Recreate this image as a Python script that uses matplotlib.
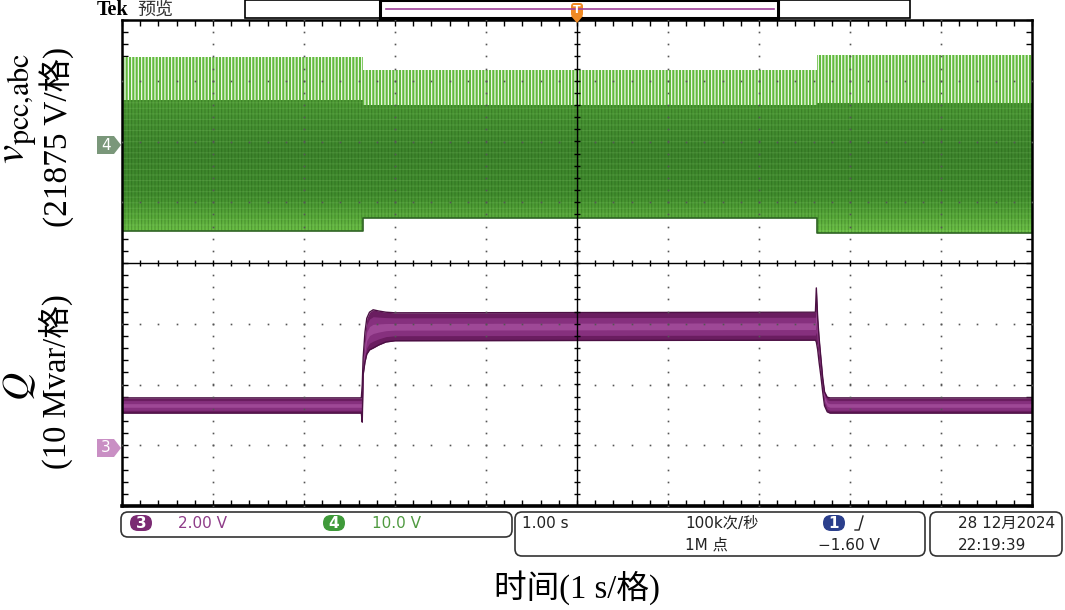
import numpy as np
import matplotlib
matplotlib.use('Agg')
import matplotlib.pyplot as plt
from matplotlib.patches import FancyBboxPatch, Rectangle, Polygon
from matplotlib.colors import LinearSegmentedColormap

plt.rcParams['hatch.linewidth'] = 0.8
plt.rcParams['mathtext.fontset'] = 'stix'

W, H = 1065, 610

# ---------------- data (screen divisions, 1 s/div) ----------------
green_edges = [-5.0, -2.35, 2.64, 5.0]          # s
green_top = [3.39, 3.18, 3.42]                  # div
green_stripe_floor = [2.68, 2.60, 2.63]         # div
green_bottom = [0.53, 0.74, 0.49]               # div

q_t = [-5.0, -2.37, -2.36, -2.35, -2.33, -2.31, -2.28, -2.24, -2.18, -2.10, -2.0,
       2.62, 2.63, 2.645, 2.66, 2.68, 2.70, 2.72, 2.75, 2.78, 5.0]
q_upper = [-2.22, -2.22, -2.01, -1.56, -1.14, -0.91, -0.81, -0.77, -0.79, -0.81, -0.82,
           -0.81, -0.41, -0.91, -1.23, -1.56, -1.89, -2.12, -2.21, -2.22, -2.22]
q_lower = [-2.47, -2.47, -2.62, -1.84, -1.63, -1.50, -1.43, -1.40, -1.35, -1.30, -1.28,
           -1.27, -1.30, -1.43, -1.63, -1.86, -2.12, -2.35, -2.45, -2.47, -2.47]

status_ch3 = "2.00 V"
status_ch4 = "10.0 V"
timebase = "1.00 s"
rate = "100k次/秒"
points = "1M 点"
trig_level = "\u22121.60 V"
date_txt = "28 12月2024"
time_txt = "22:19:39"

ylabel_top = "(21875 V/格)"
ylabel_bot = "(10 Mvar/格)"
xlabel = "时间(1 s/格)"

fig = plt.figure(figsize=(W / 100, H / 100), dpi=100)
fig.patch.set_facecolor('white')

ax = fig.add_axes([122 / W, 1 - 506 / H, 910 / W, 486 / H])
ax.set_xlim(-5, 5)
ax.set_ylim(-4, 4)

# ---------------- green trace (channel 4) ----------------
ge = np.array(green_edges)
gt = np.r_[green_top, green_top[-1]]
gs = np.r_[green_stripe_floor, green_stripe_floor[-1]]
gb = np.r_[green_bottom, green_bottom[-1]]

ax.fill_between(ge, gs, gt, step='post', facecolor='#62bb3e', edgecolor='white',
                hatch='|||||', lw=0, zorder=2)
body = ax.fill_between(ge, gb, gs, step='post', facecolor='none', lw=0, zorder=2)
cmap = LinearSegmentedColormap.from_list('g', [(0.0, '#74c94c'), (0.12, '#5cae3c'),
                                               (0.3, '#418d2e'), (0.6, '#3d842c'),
                                               (0.85, '#469232'), (1.0, '#4f9c35')])
grad = np.linspace(0, 1, 256).reshape(-1, 1)
im = ax.imshow(grad, extent=[-5, 5, 0.45, 2.72], origin='lower', aspect='auto',
               cmap=cmap, zorder=2, interpolation='bilinear')
im.set_clip_path(body.get_paths()[0], ax.transData)
ax.fill_between(ge, gb, gs, step='post', facecolor='none', edgecolor=(0.1, 0.3, 0.05, 0.3),
                hatch='|||||', lw=0, zorder=2)
ax.fill_between(ge, gb, gs, step='post', facecolor='none', edgecolor=(0.6, 0.85, 0.5, 0.18),
                hatch='---', lw=0, zorder=2)
ax.step(ge, gb, where='post', color='#2f6324', lw=1.2, zorder=2)

# ---------------- purple trace (channel 3) ----------------
qt = np.array(q_t)
qu = np.array(q_upper)
ql = np.array(q_lower)
span = qu - ql
ax.fill_between(qt, ql, qu, color='#6a1d60', lw=0, zorder=2)
ax.fill_between(qt, ql + 0.18 * span, ql + 0.82 * span, color='#86307e', lw=0, zorder=2)
ax.fill_between(qt, ql + 0.38 * span, ql + 0.62 * span, color='#9e4896', lw=0, zorder=2)
ax.plot(qt, qu, color='#4b1043', lw=1.0, zorder=2)
ax.plot(qt, ql, color='#4b1043', lw=1.0, zorder=2)

# ---------------- graticule ----------------
minor = np.arange(-4, 4.001, 0.2)
minor_x = np.arange(-5, 5.001, 0.2)
for xv in range(-4, 5):
    if xv == 0:
        continue
    ax.plot(np.full_like(minor, xv), minor, ls='none', marker='s', ms=1.2,
            color='#555555', mew=0, zorder=3)
for yv in range(-3, 4):
    if yv == 0:
        continue
    ax.plot(minor_x, np.full_like(minor_x, yv), ls='none', marker='s', ms=1.2,
            color='#555555', mew=0, zorder=3)
ax.axhline(0, color='black', lw=1.0, zorder=3)
ax.axvline(0, color='black', lw=1.0, zorder=3)
ax.plot(minor_x, np.zeros_like(minor_x), ls='none', marker='|', ms=5, mew=1,
        color='black', zorder=3)
ax.plot(np.zeros_like(minor), minor, ls='none', marker='_', ms=5, mew=1,
        color='black', zorder=3)

ax.set_xticks(np.arange(-5, 5.01, 1))
ax.set_yticks(np.arange(-4, 4.01, 1))
ax.set_xticks(minor_x, minor=True)
ax.set_yticks(minor, minor=True)
ax.tick_params(which='both', direction='in', length=4, width=1, top=True, right=True,
               labelbottom=False, labelleft=False)
for s in ax.spines.values():
    s.set_linewidth(1.8)
ax.spines['bottom'].set_linewidth(2.6)
ax.set_xlim(-5, 5)
ax.set_ylim(-4, 4)

# ---------------- overlay in pixel coords ----------------
ov = fig.add_axes([0, 0, 1, 1], zorder=5)
ov.set_xlim(0, W)
ov.set_ylim(H, 0)
ov.axis('off')
ov.patch.set_alpha(0)

sans = ['DejaVu Sans', 'Noto Sans CJK SC']
serif = ['Liberation Serif', 'Noto Sans CJK SC']

# top preview bar
ov.text(97, 10, "Tek", fontsize=14.5, fontweight='bold', family='Liberation Serif',
        va='center', ha='left', color='black')
ov.text(137, 10, "预览", fontsize=13, family='Noto Sans CJK SC', va='center', ha='left',
        color='#333333')
ov.add_patch(Rectangle((245, 0), 665, 18, fill=False, ec='black', lw=1.2))
ov.add_patch(Rectangle((380, 0), 398, 18, fill=False, ec='black', lw=2.2))
ov.plot([386, 774], [9, 9], color='#a0409a', lw=1.2)
ov.add_patch(FancyBboxPatch((571, 3), 12, 14, boxstyle='round,pad=0,rounding_size=3',
                            fc='#f08a24', ec='none'))
ov.add_patch(Polygon([[571, 16], [583, 16], [577, 23]], closed=True, fc='#f08a24', ec='none'))
ov.text(577, 10, "T", fontsize=8, fontweight='bold', color='white', ha='center',
        va='center', family='DejaVu Sans')

# channel markers
def marker(y, color, label):
    ov.add_patch(Polygon([[97, y - 9], [114, y - 9], [121, y], [114, y + 9], [97, y + 9]],
                         closed=True, fc=color, ec='none'))
    ov.text(106, y, label, fontsize=11, color='white', ha='center', va='center',
            family='DejaVu Sans')

marker(145, '#7a977a', '4')
marker(448, '#c98fc4', '3')

# y labels
ov.text(19, 108, r'$v_{\mathrm{pcc{,}abc}}$', fontsize=31, rotation=90,
        ha='center', va='center', color='black')
ov.text(57, 137, ylabel_top, fontsize=24, rotation=90, ha='center', va='center',
        family=serif, color='black')
ov.text(19, 386, r'$Q$', fontsize=28, rotation=90, ha='center', va='center', color='black')
ov.text(56, 382, ylabel_bot, fontsize=23.5, rotation=90, ha='center', va='center',
        family=serif, color='black')

# x label
ov.text(577, 588, xlabel, fontsize=23.5, ha='center', va='center', family=serif,
        color='black')

# status boxes
def rbox(x0, y0, w, h):
    ov.add_patch(FancyBboxPatch((x0, y0), w, h, boxstyle='round,pad=0,rounding_size=7',
                                fc='white', ec='#333333', lw=1.2))

rbox(121, 512, 391, 25)
rbox(515, 512, 410, 44)
rbox(930, 512, 132, 44)

def pill(xc, yc, color, label):
    ov.add_patch(FancyBboxPatch((xc - 11, yc - 8), 22, 16,
                                boxstyle='round,pad=0,rounding_size=8', fc=color, ec='none'))
    ov.text(xc, yc, label, fontsize=11, color='white', ha='center', va='center',
            family='DejaVu Sans', fontweight='bold')

pill(141, 523, '#7b2a73', '3')
ov.text(178, 523, status_ch3, fontsize=11, color='#8e3c88', va='center', family=sans)
pill(334, 523, '#3f9a3a', '4')
ov.text(372, 523, status_ch4, fontsize=11, color='#4f9a40', va='center', family=sans)

ov.text(522, 523, timebase, fontsize=11, color='#222222', va='center', family=sans)
ov.text(685, 523, rate, fontsize=11, color='#222222', va='center', family=sans)
ov.text(685, 545, points, fontsize=11, color='#222222', va='center', family=sans)
pill(834, 523, '#2b3f8c', '1')
ov.plot([855, 859, 863], [530, 530, 516], color='#222222', lw=1.0)
ov.text(818, 545, trig_level, fontsize=11, color='#222222', va='center', family=sans)
ov.text(958, 523, date_txt, fontsize=11, color='#222222', va='center', family=sans)
ov.text(958, 545, time_txt, fontsize=11, color='#222222', va='center', family=sans)

fig.savefig('out.png', dpi=100)
